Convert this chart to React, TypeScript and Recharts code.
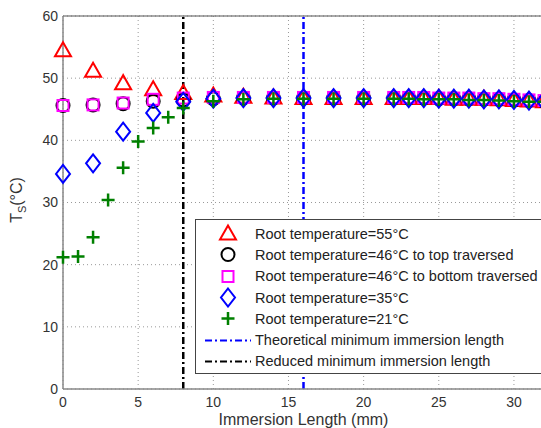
import { ComposedChart, Scatter, XAxis, YAxis, CartesianGrid, ReferenceLine } from "recharts";

const xMain = [0, 2, 4, 6, 8, 10, 12, 14, 16, 18, 20, 22, 23, 24, 25, 26, 27, 28, 29, 30, 31, 32];
const xGreen = [0, 1, 2, 3, 4, 5, 6, 7, 8, 10, 12, 14, 16, 18, 20, 22, 23, 24, 25, 26, 27, 28, 29, 30, 31, 32];

const root55 = [54.5, 51.2, 49.2, 48.2, 47.6, 47.2, 47.0, 46.9, 46.8, 46.8, 46.8, 46.8, 46.8, 46.8, 46.8, 46.7, 46.7, 46.7, 46.6, 46.5, 46.4, 46.3];
const root46Top = [45.6, 45.7, 45.9, 46.3, 46.5, 46.7, 46.8, 46.8, 46.8, 46.8, 46.8, 46.8, 46.8, 46.8, 46.7, 46.7, 46.7, 46.6, 46.6, 46.5, 46.4, 46.3];
const root46Bottom = [45.6, 45.7, 46.0, 46.6, 46.8, 46.9, 46.9, 46.9, 46.9, 46.9, 46.9, 46.9, 46.9, 46.9, 46.8, 46.8, 46.8, 46.7, 46.7, 46.6, 46.5, 46.4];
const root35 = [34.6, 36.3, 41.4, 44.4, 46.2, 46.7, 46.8, 46.8, 46.8, 46.8, 46.8, 46.8, 46.8, 46.8, 46.7, 46.7, 46.7, 46.6, 46.6, 46.5, 46.4, 46.3];
const root21 = [21.2, 21.3, 24.4, 30.4, 35.6, 39.8, 42.0, 43.7, 45.2, 46.3, 46.6, 46.7, 46.7, 46.7, 46.7, 46.7, 46.7, 46.6, 46.6, 46.6, 46.5, 46.5, 46.4, 46.3, 46.2, 46.2];

const xTicks = [0, 5, 10, 15, 20, 25, 30];
const yTicks = [0, 10, 20, 30, 40, 50, 60];
const theoreticalMin = 16;
const reducedMin = 8;

const legendLabels = [
  "Root temperature=55°C",
  "Root temperature=46°C to top traversed",
  "Root temperature=46°C to bottom traversed",
  "Root temperature=35°C",
  "Root temperature=21°C",
  "Theoretical minimum immersion length",
  "Reduced minimum immersion length",
];

const toPts = (xs: number[], ys: number[]) => xs.map((x, i) => ({ x, y: ys[i] }));

const RED = "#ff0000";
const BLACK = "#000000";
const MAGENTA = "#ff00ff";
const BLUE = "#0000ff";
const GREEN = "#008000";
const FONT = "'Liberation Sans', Arial, sans-serif";

function Triangle({ cx, cy }: any) {
  return <polygon points={`${cx},${cy - 8} ${cx - 8},${cy + 6} ${cx + 8},${cy + 6}`} fill="none" stroke={RED} strokeWidth={2} />;
}
function Circle({ cx, cy }: any) {
  return <circle cx={cx} cy={cy} r={6.5} fill="none" stroke={BLACK} strokeWidth={2} />;
}
function Square({ cx, cy }: any) {
  return <rect x={cx - 5.5} y={cy - 5.5} width={11} height={11} fill="none" stroke={MAGENTA} strokeWidth={2} />;
}
function Diamond({ cx, cy }: any) {
  return <polygon points={`${cx},${cy - 9} ${cx + 7},${cy} ${cx},${cy + 9} ${cx - 7},${cy}`} fill="none" stroke={BLUE} strokeWidth={2} />;
}
function Plus({ cx, cy }: any) {
  return (
    <path d={`M${cx - 6.5},${cy}H${cx + 6.5}M${cx},${cy - 6.5}V${cy + 6.5}`} stroke={GREEN} strokeWidth={2.5} fill="none" />
  );
}

function YLabel() {
  return (
    <text transform="translate(22,200) rotate(-90)" textAnchor="middle" fontSize={16} fill="#333" fontFamily={FONT}>
      T<tspan fontSize={11} dy={4}>S</tspan>
      <tspan dy={-4}>(°C)</tspan>
    </text>
  );
}

function LegendMarker({ i }: { i: number }) {
  const cx = 25;
  const cy = 10.5;
  if (i === 0) return <Triangle cx={cx} cy={cy} />;
  if (i === 1) return <Circle cx={cx} cy={cy} />;
  if (i === 2) return <Square cx={cx} cy={cy} />;
  if (i === 3) return <Diamond cx={cx} cy={cy} />;
  if (i === 4) return <Plus cx={cx} cy={cy} />;
  const c = i === 5 ? BLUE : BLACK;
  return <line x1={2} y1={cy} x2={48} y2={cy} stroke={c} strokeWidth={2} strokeDasharray="7 3 2 3" />;
}

export default function App() {
  return (
    <div style={{ position: "absolute", left: 0, top: 0, width: 541, height: 428, overflow: "hidden", background: "#fff", fontFamily: FONT }}>
      <ComposedChart width={548} height={428} margin={{ top: 16, right: 4, bottom: 0, left: 0 }}>
        <CartesianGrid stroke="#999" strokeDasharray="1 3" />
        <XAxis
          type="number"
          dataKey="x"
          domain={[0, 32]}
          ticks={xTicks}
          height={39}
          tickSize={4}
          tickMargin={4}
          tickLine={false}
          axisLine={{ stroke: "#888", strokeWidth: 1.5 }}
          tick={{ fontSize: 14, fill: "#333", fontFamily: FONT }}
          label={{ value: "Immersion Length (mm)", position: "insideBottom", offset: 3, fontSize: 16, fill: "#333", fontFamily: FONT }}
        />
        <YAxis
          type="number"
          dataKey="y"
          domain={[0, 60]}
          ticks={yTicks}
          width={63}
          tickSize={3}
          tickMargin={2}
          tickLine={false}
          axisLine={{ stroke: "#888", strokeWidth: 1.5 }}
          tick={{ fontSize: 14, fill: "#333", fontFamily: FONT }}
          label={<YLabel />}
        />
        <ReferenceLine y={60} stroke="#555" strokeWidth={1.2} />
        <ReferenceLine x={reducedMin} stroke={BLACK} strokeWidth={2.5} strokeDasharray="7 3 2 3" />
        <ReferenceLine x={theoreticalMin} stroke={BLUE} strokeWidth={2.5} strokeDasharray="7 3 2 3" />
        <Scatter data={toPts(xMain, root55)} shape={<Triangle />} isAnimationActive={false} />
        <Scatter data={toPts(xMain, root46Top)} shape={<Circle />} isAnimationActive={false} />
        <Scatter data={toPts(xMain, root46Bottom)} shape={<Square />} isAnimationActive={false} />
        <Scatter data={toPts(xMain, root35)} shape={<Diamond />} isAnimationActive={false} />
        <Scatter data={toPts(xGreen, root21)} shape={<Plus />} isAnimationActive={false} />
      </ComposedChart>
      <div
        style={{
          position: "absolute",
          left: 195,
          top: 219,
          width: 380,
          height: 155,
          border: "1px solid #444",
          background: "#fff",
          paddingTop: 3,
          boxSizing: "border-box",
        }}
      >
        {legendLabels.map((t, i) => (
          <div key={t} style={{ display: "flex", alignItems: "center", height: 21.3 }}>
            <svg width={50} height={21} style={{ marginLeft: 7, flex: "none" }}>
              <LegendMarker i={i} />
            </svg>
            <span style={{ marginLeft: 2, fontSize: 14.5, color: "#222", whiteSpace: "nowrap" }}>{t}</span>
          </div>
        ))}
      </div>
    </div>
  );
}
